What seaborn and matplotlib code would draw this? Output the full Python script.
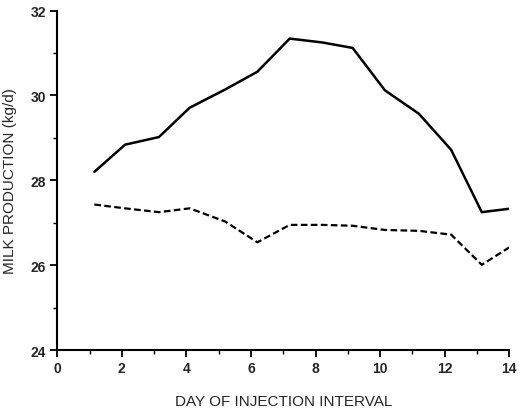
import pandas as pd
import matplotlib
import matplotlib.pyplot as plt
import seaborn as sns
from matplotlib.ticker import MultipleLocator

matplotlib.use('Agg')

# values
days = [1.15, 2.1, 3.15, 4.1, 5.2, 6.2, 7.2, 8.2, 9.15, 10.15, 11.2, 12.2, 13.15, 14.0]
treated = [28.20, 28.84, 29.02, 29.71, 30.14, 30.56, 31.34, 31.25, 31.12, 30.12, 29.57, 28.72, 27.25, 27.33]
control = [27.43, 27.34, 27.25, 27.34, 27.03, 26.54, 26.95, 26.95, 26.93, 26.83, 26.81, 26.72, 26.01, 26.42]

df = pd.DataFrame({'day': days, 'treated': treated, 'control': control})

sns.set_style('ticks')
plt.rcParams['font.family'] = ['Liberation Sans', 'DejaVu Sans']

fig = plt.figure(figsize=(5.25, 4.14), dpi=100)
ax = fig.add_axes([0.109, 0.152, 0.861, 0.820])

sns.lineplot(data=df, x='day', y='treated', ax=ax, color='black', linewidth=1.8)
sns.lineplot(data=df, x='day', y='control', ax=ax, color='black', linewidth=1.6,
             linestyle=(0, (3, 1.5)))

ax.set_xlim(0, 14)
ax.set_ylim(24, 32)
ax.xaxis.set_major_locator(MultipleLocator(2))
ax.xaxis.set_minor_locator(MultipleLocator(1))
ax.yaxis.set_major_locator(MultipleLocator(2))
ax.yaxis.set_minor_locator(MultipleLocator(1))
ax.tick_params(which='major', length=5, width=1.3, labelsize=10, color='black', pad=3)
ax.tick_params(which='minor', length=3, width=1.0, color='black')
for lab in ax.get_xticklabels() + ax.get_yticklabels():
    lab.set_fontweight('bold')
for s in ['left', 'bottom']:
    ax.spines[s].set_linewidth(1.5)
    ax.spines[s].set_color('black')
sns.despine(ax=ax)

ax.set_xlabel('DAY OF INJECTION INTERVAL', fontsize=11)
ax.set_ylabel('MILK PRODUCTION (kg/d)', fontsize=11)
ax.xaxis.set_label_coords(0.5, -0.13)
ax.yaxis.set_label_coords(-0.089, 0.5)

fig.savefig('out.png', dpi=100)
